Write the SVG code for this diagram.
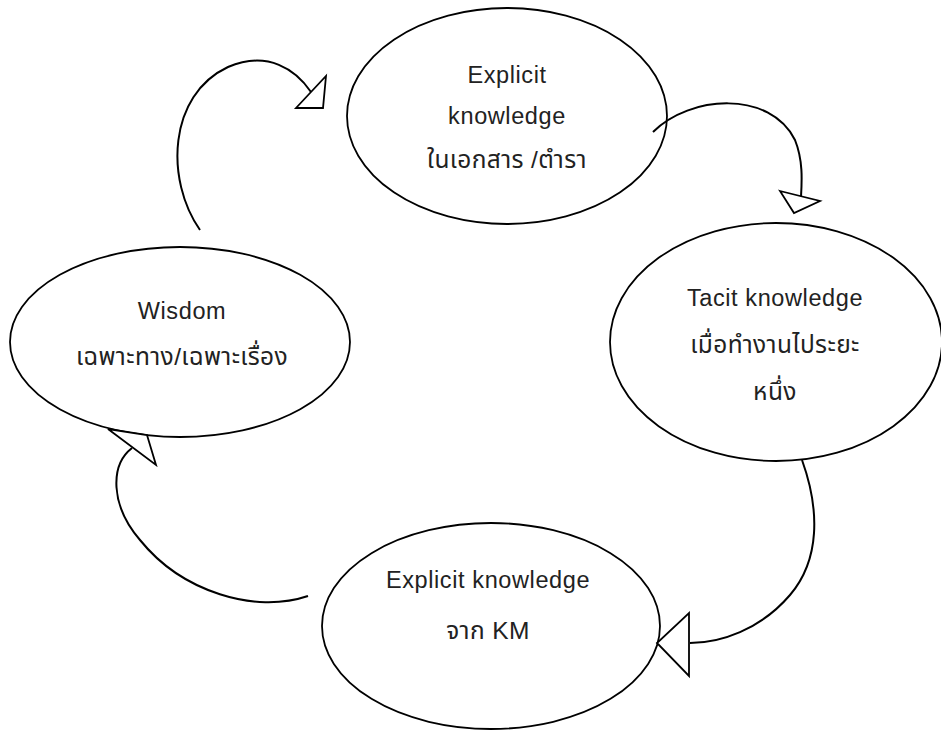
<svg xmlns="http://www.w3.org/2000/svg" width="941" height="731" viewBox="0 0 941 731">
<style>
.node ellipse{fill:#fff;stroke:#000;stroke-width:1.8}
.lbl{font-family:"Liberation Sans","Noto Sans","Noto Sans Thai",sans-serif;font-size:23.5px;fill:#222;text-anchor:middle;letter-spacing:0.6px}
.th{font-size:24.5px;letter-spacing:0.4px}
.conn path{fill:none;stroke:#000;stroke-width:2}
.conn polygon{fill:#fff;stroke:#000;stroke-width:1.8;stroke-linejoin:miter}
</style>
<rect width="941" height="731" fill="#fff"/>
<g id="node-explicit-doc" class="node">
<ellipse cx="507" cy="116" rx="160" ry="108"/>
<text class="lbl" x="507" y="83">Explicit</text>
<text class="lbl" x="507" y="124">knowledge</text>
<text class="lbl th" x="507" y="168">ในเอกสาร /ตำรา</text>
</g>
<g id="node-tacit" class="node">
<ellipse cx="776" cy="342" rx="166" ry="119"/>
<text class="lbl" x="775" y="306">Tacit knowledge</text>
<text class="lbl th" x="775" y="353">เมื่อทำงานไประยะ</text>
<text class="lbl th" x="775" y="400">หนึ่ง</text>
</g>
<g id="node-wisdom" class="node">
<ellipse cx="180" cy="342" rx="170" ry="95"/>
<text class="lbl" x="182" y="319">Wisdom</text>
<text class="lbl th" x="182" y="365">เฉพาะทาง/เฉพาะเรื่อง</text>
</g>
<g id="node-explicit-km" class="node">
<ellipse cx="491" cy="626" rx="169" ry="103"/>
<text class="lbl" x="488" y="588">Explicit knowledge</text>
<text class="lbl th" x="488" y="639">จาก KM</text>
</g>
<g id="connectors" class="conn">
<path d="M200,230 C165,180 168,95 228,67 C268,50 296,70 311,92"/>
<polygon points="326,76 323,108 296,108"/>
<path d="M653,132 C690,95 770,90 795,140 C803,160 802,180 801,197"/>
<polygon points="780,191 820,201 794,213"/>
<path d="M802,460 C820,510 820,560 790,595 C760,630 720,643 690,643"/>
<polygon points="689,613 689,676 657,643"/>
<path d="M308,596 C255,614 182,592 140,540 C110,505 110,465 132,448"/>
<polygon points="108,429 147,435 156,465"/>
</g>
</svg>
